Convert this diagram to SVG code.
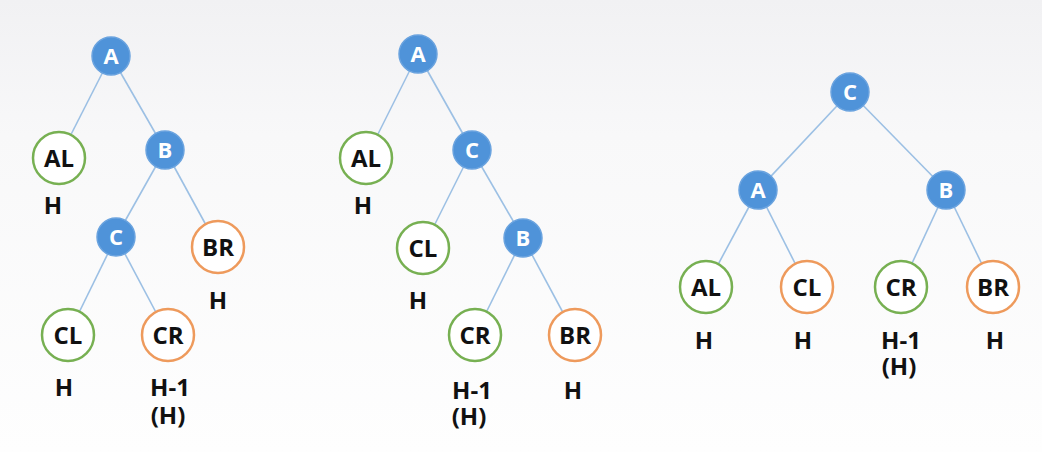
<svg xmlns="http://www.w3.org/2000/svg" width="1042" height="452" viewBox="0 0 1042 452">
<defs>
<linearGradient id="bg" x1="0" y1="0" x2="0" y2="1">
<stop offset="0" stop-color="#f1f1f3"/>
<stop offset="0.3" stop-color="#f8f8f9"/>
<stop offset="1" stop-color="#fefefe"/>
</linearGradient>
<style>
.edge{stroke:#9cc0e4;stroke-width:1.6;fill:none}
.inner{fill:#4f93d9;stroke:#6aa3df;stroke-width:1.5}
.g{fill:#ffffff;stroke:#77b052;stroke-width:2.5}
.o{fill:#ffffff;stroke:#ee9a5c;stroke-width:2.5}
.wt{font-family:"Open Sans","Noto Sans",sans-serif;font-weight:bold;font-size:22px;fill:#ffffff;text-anchor:middle}
.bt{font-family:"Open Sans","Noto Sans",sans-serif;font-weight:bold;font-size:24px;fill:#111111;text-anchor:middle}
.lb{font-family:"Open Sans","Noto Sans",sans-serif;font-weight:bold;font-size:24px;fill:#111111;text-anchor:middle}
</style>
</defs>
<rect x="0" y="0" width="1042" height="452" fill="url(#bg)"/>
<g id="connectors">
<line class="edge" x1="111" y1="56" x2="59" y2="158"/>
<line class="edge" x1="111" y1="56" x2="165" y2="150"/>
<line class="edge" x1="165" y1="150" x2="116" y2="237"/>
<line class="edge" x1="165" y1="150" x2="218" y2="247"/>
<line class="edge" x1="116" y1="237" x2="68" y2="335"/>
<line class="edge" x1="116" y1="237" x2="168" y2="335"/>
<line class="edge" x1="418" y1="54" x2="366" y2="158"/>
<line class="edge" x1="418" y1="54" x2="472" y2="150"/>
<line class="edge" x1="472" y1="150" x2="423" y2="248"/>
<line class="edge" x1="472" y1="150" x2="523" y2="238"/>
<line class="edge" x1="523" y1="238" x2="475" y2="335"/>
<line class="edge" x1="523" y1="238" x2="575" y2="335"/>
<line class="edge" x1="850" y1="92" x2="758" y2="190"/>
<line class="edge" x1="850" y1="92" x2="946" y2="190"/>
<line class="edge" x1="758" y1="190" x2="706" y2="287"/>
<line class="edge" x1="758" y1="190" x2="807" y2="287"/>
<line class="edge" x1="946" y1="190" x2="901" y2="287"/>
<line class="edge" x1="946" y1="190" x2="993" y2="287"/>
</g>
<!-- Tree 1 -->
<g id="t1-A"><circle class="inner" cx="111" cy="56" r="19"/><text class="wt" x="111" y="64">A</text></g>
<g id="t1-AL"><circle class="g" cx="59" cy="158" r="26"/><text class="bt" x="59" y="167">AL</text><text class="lb" x="53" y="213.5">H</text></g>
<g id="t1-B"><circle class="inner" cx="165" cy="150" r="19"/><text class="wt" x="165" y="158">B</text></g>
<g id="t1-C"><circle class="inner" cx="116" cy="237" r="19"/><text class="wt" x="116" y="245">C</text></g>
<g id="t1-BR"><circle class="o" cx="218" cy="247" r="26"/><text class="bt" x="218" y="256">BR</text><text class="lb" x="218" y="308.5">H</text></g>
<g id="t1-CL"><circle class="g" cx="68" cy="335" r="26"/><text class="bt" x="68" y="344">CL</text><text class="lb" x="64" y="396">H</text></g>
<g id="t1-CR"><circle class="o" cx="168" cy="335" r="26"/><text class="bt" x="168" y="344">CR</text><text class="lb" x="170" y="396">H-1</text><text class="lb" x="168" y="424">(H)</text></g>
<!-- Tree 2 -->
<g id="t2-A"><circle class="inner" cx="418" cy="54" r="19"/><text class="wt" x="418" y="62">A</text></g>
<g id="t2-AL"><circle class="g" cx="366" cy="158" r="26"/><text class="bt" x="366" y="167">AL</text><text class="lb" x="363" y="214">H</text></g>
<g id="t2-C"><circle class="inner" cx="472" cy="150" r="19"/><text class="wt" x="472" y="158">C</text></g>
<g id="t2-CL"><circle class="g" cx="423" cy="248" r="26"/><text class="bt" x="423" y="257">CL</text><text class="lb" x="418" y="308.5">H</text></g>
<g id="t2-B"><circle class="inner" cx="523" cy="238" r="19"/><text class="wt" x="523" y="246">B</text></g>
<g id="t2-CR"><circle class="g" cx="475" cy="335" r="26"/><text class="bt" x="475" y="344">CR</text><text class="lb" x="472" y="398.5">H-1</text><text class="lb" x="469" y="424.5">(H)</text></g>
<g id="t2-BR"><circle class="o" cx="575" cy="335" r="26"/><text class="bt" x="575" y="344">BR</text><text class="lb" x="573" y="398.5">H</text></g>
<!-- Tree 3 -->
<g id="t3-C"><circle class="inner" cx="850" cy="92" r="19"/><text class="wt" x="850" y="100">C</text></g>
<g id="t3-A"><circle class="inner" cx="758" cy="190" r="19"/><text class="wt" x="758" y="198">A</text></g>
<g id="t3-B"><circle class="inner" cx="946" cy="190" r="19"/><text class="wt" x="946" y="198">B</text></g>
<g id="t3-AL"><circle class="g" cx="706" cy="287" r="26"/><text class="bt" x="706" y="296">AL</text><text class="lb" x="704" y="348.5">H</text></g>
<g id="t3-CL"><circle class="o" cx="807" cy="287" r="26"/><text class="bt" x="807" y="296">CL</text><text class="lb" x="803" y="348.5">H</text></g>
<g id="t3-CR"><circle class="g" cx="901" cy="287" r="26"/><text class="bt" x="901" y="296">CR</text><text class="lb" x="901" y="348.5">H-1</text><text class="lb" x="899" y="374.5">(H)</text></g>
<g id="t3-BR"><circle class="o" cx="993" cy="287" r="26"/><text class="bt" x="993" y="296">BR</text><text class="lb" x="995" y="348.5">H</text></g>
</svg>
